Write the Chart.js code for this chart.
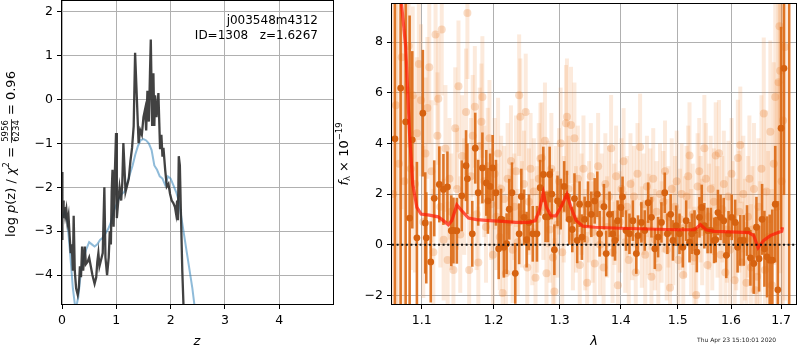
<!DOCTYPE html>
<html>
<head>
<meta charset="utf-8">
<script src="https://cdn.jsdelivr.net/npm/chart.js@4.4.1/dist/chart.umd.min.js"></script>
<style>
body { margin: 0; background: #fff; }
#pzCanvas { position: absolute; left: 0; top: 0; }
#specCanvas { position: absolute; left: 330px; top: 0; }
</style>
</head>
<body>
<canvas id="pzCanvas" width="334" height="350"></canvas>
<canvas id="specCanvas" width="470" height="350"></canvas>
<script>
// ---- left panel: log p(z) ----
const zTicks = [0, 1, 2, 3, 4];
const pzTicks = [-4, -3, -2, -1, 0, 1, 2];
const zBlack = [0.000,0.004,0.010,0.020,0.030,0.045,0.060,0.080,0.100,0.120,0.140,0.160,0.180,0.200,0.215,0.235,0.260,0.290,0.310,0.330,0.350,0.370,0.390,0.420,0.440,0.470,0.500,0.530,0.560,0.600,0.630,0.650,0.670,0.690,0.720,0.750,0.780,0.800,0.830,0.860,0.880,0.900,0.915,0.930,0.950,0.970,0.995,1.010,1.030,1.060,1.090,1.110,1.130,1.170,1.200,1.230,1.260,1.290,1.320,1.346,1.370,1.410,1.440,1.470,1.500,1.530,1.550,1.573,1.600,1.620,1.635,1.660,1.683,1.700,1.714,1.740,1.775,1.806,1.830,1.850,1.868,1.900,1.930,1.960,1.990,2.020,2.050,2.080,2.100,2.120,2.135,2.150,2.170,2.190,2.215,2.240];
const pzBlack = [-1.65,-3.2,-2.5,-2.3,-2.7,-2.45,-2.65,-2.5,-2.8,-2.65,-3.1,-3.5,-3.3,-3.9,-2.65,-3.9,-4.3,-4.45,-4.3,-3.8,-4.05,-3.35,-3.9,-3.35,-3.75,-3.7,-3.6,-3.8,-4.0,-4.2,-4.05,-3.7,-3.5,-3.8,-3.65,-3.5,-2.0,-3.6,-4.0,-3.6,-3.0,-3.3,-2.1,-1.6,-2.9,-1.8,-0.76,-2.7,-2.4,-2.0,-2.3,-1.9,-0.99,-2.1,-1.95,-1.8,-1.4,-1.1,-0.6,1.07,0.3,-0.99,-0.7,-0.8,-0.4,-0.22,-0.7,0.2,-0.5,0.6,1.37,-0.6,0.6,-0.6,0.1,-0.4,0.15,-1.13,-0.8,-1.3,-1.1,-1.6,-1.98,-1.92,-2.15,-2.3,-2.36,-2.45,-2.6,-2.3,-2.75,-1.29,-1.5,-2.6,-3.9,-4.8];
const zBlue = [0.00,0.05,0.10,0.15,0.20,0.25,0.30,0.35,0.40,0.45,0.50,0.55,0.60,0.65,0.70,0.75,0.80,0.85,0.90,0.95,1.00,1.05,1.10,1.15,1.20,1.25,1.30,1.35,1.40,1.45,1.50,1.55,1.60,1.65,1.70,1.75,1.80,1.85,1.90,1.95,2.00,2.05,2.10,2.15,2.20,2.25,2.30,2.35,2.40,2.45,2.50];
const pzBlue = [-2.7,-2.55,-2.8,-3.5,-4.3,-4.8,-4.5,-3.9,-3.6,-3.4,-3.25,-3.3,-3.35,-3.3,-3.2,-3.15,-3.05,-2.95,-2.8,-2.55,-2.4,-2.25,-2.15,-2.1,-1.9,-1.7,-1.5,-1.25,-1.05,-0.92,-0.9,-0.93,-1.0,-1.15,-1.5,-1.6,-1.75,-1.8,-1.95,-1.75,-1.8,-1.95,-2.1,-2.3,-2.7,-3.1,-3.5,-3.9,-4.3,-4.8,-5.3];

// ---- right panel: spectrum ----
const waveTicks = [1.1, 1.2, 1.3, 1.4, 1.5, 1.6, 1.7];
const fluxTicks = [-2, 0, 2, 4, 6, 8];
const darkWave = [1.0648,1.0722,1.0787,1.0839,1.0874,1.0935,1.1014,1.1046,1.1060,1.1120,1.1167,1.1236,1.1292,1.1347,1.1400,1.1430,1.1477,1.1546,1.1606,1.1625,1.1694,1.1736,1.1778,1.1838,1.1894,1.1917,1.1950,1.1986,1.2034,1.2074,1.2108,1.2150,1.2191,1.2230,1.2270,1.2319,1.2377,1.2410,1.2451,1.2490,1.2525,1.2583,1.2647,1.2696,1.2745,1.2779,1.2818,1.2843,1.2877,1.2917,1.2966,1.3016,1.3071,1.3115,1.3153,1.3200,1.3235,1.3279,1.3317,1.3355,1.3399,1.3454,1.3508,1.3563,1.3607,1.3645,1.3716,1.3754,1.3809,1.3863,1.3902,1.3945,1.4000,1.4029,1.4088,1.4147,1.4206,1.4265,1.4294,1.4353,1.4412,1.4471,1.4529,1.4588,1.4647,1.4706,1.4765,1.4812,1.4871,1.4912,1.4971,1.5031,1.5092,1.5153,1.5215,1.5258,1.5307,1.5350,1.5399,1.5442,1.5491,1.5552,1.5613,1.5675,1.5706,1.5748,1.5798,1.5859,1.5908,1.5951,1.6013,1.6080,1.6127,1.6180,1.6247,1.6313,1.6380,1.6447,1.6500,1.6553,1.6613,1.6660,1.6713,1.6767,1.6820,1.6880,1.6933,1.7000,1.7060,1.7167];
const darkFlux = [4.18,6.18,4.85,1.05,4.14,0.27,5.19,0.86,0.27,-0.68,1.83,2.38,2.18,2.28,0.55,0.56,0.55,1.93,3.12,2.6,0.43,3.81,2.05,3.03,2.44,1.73,2.3,3.03,2.05,-0.16,1.01,-0.1,0.04,1.4,2.05,-1.13,0.43,1.9,1.08,0.2,0.88,0.43,0.43,2.25,2.77,1.1,1.1,2.77,2.0,-0.2,1.73,1.6,2.3,1.92,1.0,0.6,1.82,0.17,1.6,0.3,1.0,1.6,1.2,1.73,1.99,0.43,1.5,-0.35,1.2,0.43,0.17,0.95,1.47,1.89,0.56,0.43,0.95,-0.35,0.36,0.88,0.56,1.66,1.08,-0.16,0.3,0.88,2.05,0.43,1.2,0.17,0.75,0.43,-0.1,0.95,0.1,0.43,0.56,-0.29,1.08,1.47,0.75,0.56,0.56,0.17,0.2,1.27,1.08,0.95,-0.42,0.43,1.08,0.88,-0.1,0.17,0.17,0.56,-0.52,-0.74,0.69,-0.55,1.0,-0.16,-0.48,-0.61,-0.61,1.6,-1.78,4.6,6.96,11];
const darkErr = [40,40,40,8,3.5,3.0,2.5,2.0,1.8,1.6,1.5,1.5,1.4,1.4,1.4,1.3,1.3,1.4,1.4,1.4,1.3,1.4,1.3,1.4,1.3,1.3,1.3,1.3,1.3,1.2,1.2,1.2,1.2,1.2,1.2,1.2,1.2,1.1,1.1,1.1,1.1,1.1,1.1,1.1,1.1,1.0,1.0,1.1,1.0,1.0,1.0,1.0,1.0,1.0,1.0,0.9,1.0,0.9,0.9,0.9,0.9,0.9,0.9,0.9,0.9,0.9,0.9,0.9,0.9,0.9,0.8,0.8,0.8,0.8,0.8,0.8,0.8,0.8,0.8,0.8,0.8,0.8,0.8,0.8,0.8,0.8,0.8,0.8,0.8,0.8,0.8,0.8,0.8,0.8,0.8,0.8,0.8,0.8,0.8,0.9,0.9,0.9,0.9,0.9,0.9,0.9,0.9,0.9,0.9,0.9,0.9,0.9,1.0,1.0,1.0,1.0,1.1,1.2,1.2,1.3,1.4,1.5,1.6,1.8,2.0,2.3,3.5,4.0,5.0,40,40];
const lightWave = [1.0625,1.0660,1.0700,1.0735,1.0770,1.0800,1.0826,1.0855,1.0880,1.0910,1.0935,1.0961,1.0990,1.1020,1.1050,1.1075,1.1100,1.1130,1.1155,1.1185,1.1210,1.1222,1.1250,1.1269,1.1295,1.1320,1.1350,1.1375,1.1400,1.1430,1.1455,1.1480,1.1500,1.1525,1.1550,1.1580,1.1606,1.1625,1.1650,1.1675,1.1700,1.1730,1.1755,1.1780,1.1800,1.1824,1.1838,1.1865,1.1890,1.1915,1.1940,1.1965,1.1990,1.2015,1.2040,1.2065,1.2090,1.2110,1.2132,1.2155,1.2180,1.2205,1.2230,1.2255,1.2280,1.2305,1.2330,1.2355,1.2377,1.2395,1.2420,1.2450,1.2476,1.2500,1.2525,1.2550,1.2575,1.2600,1.2625,1.2650,1.2675,1.2700,1.2720,1.2745,1.2770,1.2794,1.2820,1.2845,1.2870,1.2895,1.2917,1.2940,1.2965,1.2990,1.3015,1.3040,1.3065,1.3100,1.3115,1.3140,1.3180,1.3210,1.3235,1.3260,1.3290,1.3320,1.3350,1.3380,1.3410,1.3440,1.3470,1.3500,1.3530,1.3563,1.3590,1.3620,1.3650,1.3680,1.3710,1.3740,1.3770,1.3800,1.3836,1.3860,1.3890,1.3920,1.3950,1.3980,1.4010,1.4047,1.4075,1.4105,1.4135,1.4165,1.4195,1.4225,1.4255,1.4285,1.4330,1.4360,1.4390,1.4420,1.4450,1.4480,1.4510,1.4529,1.4560,1.4590,1.4620,1.4650,1.4680,1.4710,1.4740,1.4770,1.4800,1.4830,1.4860,1.4890,1.4920,1.4950,1.4980,1.5010,1.5040,1.5070,1.5100,1.5130,1.5160,1.5190,1.5215,1.5245,1.5275,1.5305,1.5338,1.5365,1.5395,1.5420,1.5450,1.5491,1.5520,1.5550,1.5580,1.5610,1.5640,1.5670,1.5706,1.5740,1.5767,1.5800,1.5830,1.5860,1.5890,1.5920,1.5950,1.5980,1.6010,1.6040,1.6070,1.6100,1.6133,1.6160,1.6180,1.6210,1.6240,1.6270,1.6300,1.6330,1.6360,1.6390,1.6420,1.6450,1.6480,1.6513,1.6540,1.6570,1.6600,1.6647,1.6670,1.6700,1.6735,1.6780,1.6810,1.6850,1.6880,1.6920,1.6947,1.6967,1.6980,1.7010,1.7040,1.7080];
const lightFlux = [2.0,5.5,3.2,7.4,2.5,6.1,7.84,3.0,5.9,2.4,4.4,7.13,5.7,0.9,3.6,5.4,7.0,2.9,-0.3,8.3,4.3,5.76,1.5,8.49,0.2,3.8,-0.6,2.6,1.3,-1.0,4.6,2.2,6.25,0.4,3.5,1.9,5.24,9.14,-1.0,2.7,4.3,5.44,1.2,-0.7,3.9,4.85,5.83,2.5,0.7,3.1,4.2,1.6,-0.4,2.8,1.1,3.6,0.3,2.2,-1.91,1.8,-1.13,2.6,0.9,3.3,-0.2,1.5,2.9,0.1,5.9,5.05,1.2,2.4,5.24,-0.9,1.7,3.0,0.5,2.1,-1.3,1.0,2.6,3.4,3.42,1.5,4.1,-1.13,2.0,0.6,3.0,-0.5,-1.85,1.8,0.8,2.5,4.0,-0.3,1.4,4.79,5.05,2.2,4.72,0.3,4.2,1.0,2.6,-0.8,1.6,3.0,0.2,-1.5,1.3,2.7,0.5,-0.74,2.0,3.1,0.0,1.6,-0.9,2.4,0.7,1.9,3.81,-0.3,1.2,2.7,-1.6,0.9,2.2,3.29,0.1,1.5,-0.6,2.4,0.6,1.9,-1.1,2.8,3.86,0.3,1.6,-0.4,2.3,0.8,1.8,-1.26,2.6,0.2,1.3,-0.9,2.0,0.5,1.7,2.9,-0.2,1.1,-1.7,2.2,0.4,1.5,2.5,-0.6,1.0,2.0,-1.2,0.7,1.9,2.7,3.52,0.1,1.2,-0.5,-1.98,2.3,2.9,1.4,0.5,3.81,2.6,-0.8,1.1,2.2,0.3,1.7,3.52,0.9,3.61,-0.4,1.4,2.4,-1.1,0.6,1.9,-0.2,2.8,1.0,-1.4,0.4,3.42,1.3,3.94,-0.7,2.0,0.2,-1.5,1.1,2.6,-0.9,0.6,2.2,-1.8,-1.26,1.5,-0.3,3.0,5.18,-1.0,2.1,0.3,4.46,-1.6,3.2,5.83,1.5,6.41,8.62,6.87,2.5,4.9,7.8];
const lightErr = [9,8,7,6,6,5,4,4,3.5,3.5,3,3,3,3,3,2.8,3,2.8,2.5,2.8,2.5,2.6,2.4,2.6,2.4,2.5,2.3,2.4,2.3,2.3,2.4,2.4,2.6,2.3,2.4,2.3,2.5,2.6,2.2,2.3,2.4,2.4,2.2,2.2,2.3,2.3,2.4,2.2,2.2,2.3,2.3,2.2,2.1,2.2,2.1,2.2,2.1,2.1,2.1,2.1,2.1,2.2,2.1,2.2,2.1,2.1,2.2,2.1,2.4,2.3,2.1,2.1,2.3,2.1,2.1,2.2,2.1,2.1,2.1,2.1,2.2,2.2,2.2,2.1,2.3,2.1,2.1,2.1,2.2,2.1,2.1,2.1,2.1,2.1,2.2,2.1,2.1,2.3,2.3,2.1,2.3,2.1,2.2,2.1,2.1,2.0,2.0,2.1,2.0,2.0,2.0,2.1,2.0,2.0,2.0,2.1,2.0,2.0,2.0,2.0,2.0,2.0,2.1,2.0,2.0,2.0,2.0,2.0,2.0,2.1,2.0,2.0,2.0,2.0,2.0,2.0,2.0,2.0,2.1,2.0,2.0,2.0,2.0,2.0,2.0,2.0,2.0,2.0,2.0,2.0,2.0,2.0,2.0,2.0,2.0,2.0,2.0,2.0,2.0,2.0,2.0,2.0,2.0,2.0,2.0,2.0,2.0,2.0,2.1,2.1,2.0,2.0,2.0,2.1,2.1,2.1,2.1,2.1,2.2,2.1,2.1,2.1,2.1,2.1,2.1,2.2,2.1,2.2,2.1,2.1,2.2,2.1,2.2,2.2,2.2,2.3,2.2,2.2,2.3,2.4,2.3,2.4,2.3,2.4,2.4,2.4,2.5,2.5,2.5,2.6,2.6,2.7,2.7,2.8,2.9,3.0,3.2,3.2,3.4,3.6,3.8,4.0,4.5,5,6,7,8,8,9,10,12];
const modelWave = [1.0715,1.0733,1.0787,1.0839,1.0880,1.0935,1.0990,1.1100,1.1220,1.1290,1.1360,1.1407,1.1477,1.1546,1.1640,1.1755,1.1940,1.2132,1.2328,1.2525,1.2622,1.2681,1.2745,1.2794,1.2867,1.2941,1.3016,1.3115,1.3180,1.3262,1.3372,1.3563,1.4000,1.4471,1.5000,1.5307,1.5417,1.5521,1.5675,1.6000,1.6347,1.6447,1.6533,1.6647,1.6780,1.6913,1.7013,1.7030];
const modelFlux = [13,9.5,7.84,4.33,2.38,1.47,1.21,1.17,1.1,0.95,0.79,0.95,1.57,1.34,1.05,0.99,0.95,0.92,0.88,0.88,0.95,1.34,2.05,1.47,1.14,1.14,1.47,1.99,1.47,0.95,0.73,0.69,0.65,0.62,0.59,0.59,0.79,0.59,0.53,0.51,0.48,0.36,-0.12,0.17,0.36,0.46,0.53,0.69];
const zeroWave = [1.061, 1.731];
const zeroFlux = [0, 0];

const fontFamily = "DejaVu Sans";
const tickFont = { family: fontFamily, size: 12.5 };
const gridOpts = { color: "#b0b0b0", lineWidth: 1, tickColor: "#000", tickLength: 5, drawTicks: true };
const minus = v => (v < 0 ? "\u2212" + Math.abs(v) : "" + v);
const pts = (xs, ys) => xs.map((x, i) => ({ x: x, y: ys[i] }));
// stop Chart.js from reserving room for half a tick label at the axis ends
const noPadX = h => s => { s.height = h; s.paddingLeft = 0; s.paddingRight = 0; };
const noPadY = w => s => { s.width = w; s.paddingTop = 0; s.paddingBottom = 0; };

function frame(chart) {
    const ctx = chart.ctx, a = chart.chartArea;
    ctx.save();
    ctx.strokeStyle = "#000";
    ctx.lineWidth = 1;
    ctx.strokeRect(Math.round(a.left) - 0.5, Math.round(a.top) - 0.5, Math.round(a.right - a.left) + 1, Math.round(a.bottom - a.top) + 1);
    ctx.restore();
}

// draws a run of text pieces rotated by -90deg, centered on (cx, cy)
function rotatedText(ctx, parts, cx, cy) {
    ctx.save();
    ctx.translate(cx, cy);
    ctx.rotate(-Math.PI / 2);
    ctx.fillStyle = "#000";
    ctx.textBaseline = "middle";
    let total = 0;
    parts.forEach(p => {
        ctx.font = p.font;
        p.w = p.frac ? Math.max(ctx.measureText(p.frac[0]).width, ctx.measureText(p.frac[1]).width) + 2 : ctx.measureText(p.t).width;
        total += p.w;
    });
    let x = -total / 2;
    parts.forEach(p => {
        ctx.font = p.font;
        if (p.frac) {
            ctx.textAlign = "center";
            ctx.fillText(p.frac[0], x + p.w / 2, -6);
            ctx.fillText(p.frac[1], x + p.w / 2, 5);
            ctx.fillRect(x, -1, p.w, 0.8);
            ctx.textAlign = "left";
        } else {
            ctx.textAlign = "left";
            ctx.fillText(p.t, x, p.dy || 0);
        }
        x += p.w;
    });
    ctx.restore();
}

const pzDecor = {
    id: "pzDecor",
    afterDraw(chart) {
        frame(chart);
        const ctx = chart.ctx;
        ctx.save();
        ctx.fillStyle = "#000";
        ctx.font = "12px " + fontFamily;
        ctx.textAlign = "right";
        ctx.textBaseline = "alphabetic";
        ctx.fillText("j003548m4312", 318, 24);
        ctx.fillText("ID=1308   z=1.6267", 318, 39);
        ctx.font = "italic 13px " + fontFamily;
        ctx.textAlign = "center";
        ctx.fillText("z", 197, 345);
        ctx.restore();
        const n = "13px " + fontFamily, it = "italic 13px " + fontFamily, sm = "8.5px " + fontFamily;
        rotatedText(ctx, [
            { t: "log ", font: n }, { t: "p", font: it }, { t: "(z) / ", font: n },
            { t: "\u03c7", font: it }, { t: "2", font: sm, dy: -5 }, { t: " = ", font: n },
            { frac: ["5956", "6234"], font: sm }, { t: " = 0.96", font: n }
        ], 12, 154);
    }
};

new Chart(document.getElementById("pzCanvas"), {
    type: "scatter",
    data: {
        datasets: [
            { data: pts(zBlue, pzBlue), showLine: true, borderColor: "rgba(31,119,180,0.5)", borderWidth: 2, pointRadius: 0, order: 1 },
            { data: pts(zBlack, pzBlack), showLine: true, borderColor: "rgba(45,45,45,0.9)", borderWidth: 2.3, pointRadius: 0, order: 0 }
        ]
    },
    options: {
        responsive: false,
        animation: false,
        events: [],
        layout: { padding: { left: 0, top: 1, right: 1, bottom: 0 } },
        plugins: { legend: { display: false }, tooltip: { enabled: false } },
        scales: {
            x: {
                type: "linear", min: 0, max: 4.99,
                afterBuildTicks: s => { s.ticks = zTicks.map(v => ({ value: v })); },
                afterFit: noPadX(46),
                grid: gridOpts, border: { display: false },
                ticks: { color: "#000", font: tickFont, padding: 4, maxRotation: 0, callback: v => minus(v) }
            },
            y: {
                min: -4.66, max: 2.25,
                afterBuildTicks: s => { s.ticks = pzTicks.map(v => ({ value: v })); },
                afterFit: noPadY(62),
                grid: gridOpts, border: { display: false },
                ticks: { color: "#000", font: tickFont, padding: 4, callback: v => minus(v) }
            }
        }
    },
    plugins: [pzDecor]
});

function errorBars(chart, xs, ys, es, color, width) {
    const ctx = chart.ctx, a = chart.chartArea, sx = chart.scales.x, sy = chart.scales.y;
    ctx.save();
    ctx.beginPath();
    ctx.rect(a.left, a.top, a.right - a.left, a.bottom - a.top);
    ctx.clip();
    ctx.strokeStyle = color;
    ctx.lineWidth = width;
    for (let i = 0; i < xs.length; i++) {
        const px = sx.getPixelForValue(xs[i]);
        ctx.beginPath();
        ctx.moveTo(px, sy.getPixelForValue(ys[i] - es[i]));
        ctx.lineTo(px, sy.getPixelForValue(ys[i] + es[i]));
        ctx.stroke();
    }
    ctx.restore();
}

const specDecor = {
    id: "specDecor",
    beforeDatasetsDraw(chart) {
        errorBars(chart, lightWave, lightFlux, lightErr, "rgba(235,130,50,0.17)", 4);
    },
    afterDatasetDraw(chart, args) {
        if (args.index === 0) errorBars(chart, darkWave, darkFlux, darkErr, "rgba(220,105,20,0.9)", 2.6);
    },
    afterDraw(chart) {
        frame(chart);
        const ctx = chart.ctx;
        ctx.save();
        ctx.fillStyle = "#000";
        ctx.font = "italic 13px " + fontFamily;
        ctx.textAlign = "center";
        ctx.fillText("\u03bb", 264, 345);
        ctx.font = "6px " + fontFamily;
        ctx.textAlign = "left";
        ctx.fillStyle = "#222";
        ctx.fillText("Thu Apr 23 15:10:01 2020", 367, 342);
        ctx.restore();
        const n = "13px " + fontFamily, it = "italic 13px " + fontFamily, sm = "8.5px " + fontFamily;
        rotatedText(ctx, [
            { t: "f", font: it }, { t: "\u03bb", font: sm, dy: 3 }, { t: " \u00d7 10", font: n },
            { t: "\u221219", font: sm, dy: -5 }
        ], 15, 154);
    }
};

new Chart(document.getElementById("specCanvas"), {
    type: "scatter",
    data: {
        datasets: [
            { data: pts(lightWave, lightFlux), pointRadius: 4, pointBorderWidth: 0, pointBackgroundColor: "rgba(235,130,50,0.28)", order: 4 },
            { data: pts(darkWave, darkFlux), pointRadius: 3.4, pointBorderWidth: 0, pointBackgroundColor: "rgb(214,98,16)", order: 3 },
            { data: pts(modelWave, modelFlux), showLine: true, borderColor: "rgba(255,25,5,0.72)", borderWidth: 3.2, pointRadius: 0, order: 2 },
            { data: pts(zeroWave, zeroFlux), showLine: true, borderColor: "#111", borderWidth: 2, borderDash: [2, 2.6], pointRadius: 0, order: 1 }
        ]
    },
    options: {
        responsive: false,
        animation: false,
        events: [],
        layout: { padding: { left: 0, top: 1, right: 1, bottom: 0 } },
        plugins: { legend: { display: false }, tooltip: { enabled: false } },
        scales: {
            x: {
                type: "logarithmic", min: 1.061, max: 1.731,
                afterBuildTicks: s => { s.ticks = waveTicks.map(v => ({ value: v })); },
                afterFit: noPadX(46),
                grid: gridOpts, border: { display: false },
                ticks: { color: "#000", font: tickFont, padding: 4, maxRotation: 0, autoSkip: false, callback: v => Number(v).toFixed(1) }
            },
            y: {
                min: -2.34, max: 9.5,
                afterBuildTicks: s => { s.ticks = fluxTicks.map(v => ({ value: v })); },
                afterFit: noPadY(62),
                grid: gridOpts, border: { display: false },
                ticks: { color: "#000", font: tickFont, padding: 4, callback: v => minus(v) }
            }
        }
    },
    plugins: [specDecor]
});
</script>
</body>
</html>
